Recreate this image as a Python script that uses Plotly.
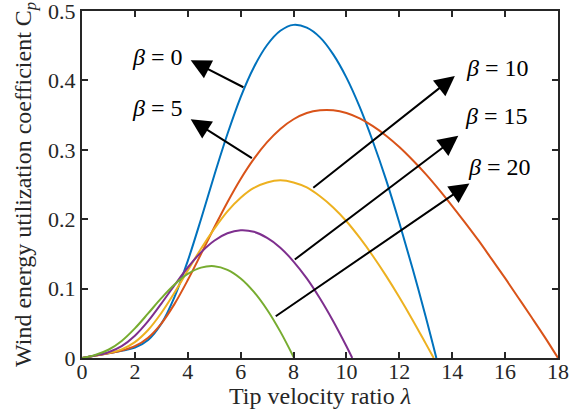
import plotly.graph_objects as go

# Tip velocity ratio samples and Cp values
lam_b0 = [0, 0.5, 1, 1.5, 2, 2.5, 3, 3.5, 4, 4.5, 5, 5.5, 6, 6.5, 7, 7.5, 8, 8.5, 9, 9.5, 10, 10.5, 11, 11.5, 12, 12.5, 13, 13.4]
cp_b0 = [0, 0.0034, 0.0068, 0.0103, 0.0151, 0.0261, 0.0495, 0.0882, 0.140, 0.200, 0.263, 0.3227, 0.376, 0.419, 0.451, 0.4715, 0.480, 0.476, 0.462, 0.4375, 0.404, 0.3618, 0.312, 0.2567, 0.195, 0.129, 0.059, 0.0]

lam_b5 = [0, 0.5, 1, 1.5, 2, 2.5, 3, 3.5, 4, 4.5, 5, 5.5, 6, 6.5, 7, 7.5, 8, 8.5, 9, 9.5, 10, 10.5, 11, 11.5, 12, 12.5, 13, 13.5, 14, 14.5, 15, 15.5, 16, 16.5, 17, 17.5, 18]
cp_b5 = [0, 0.0034, 0.0068, 0.0106, 0.0170, 0.0293, 0.0497, 0.0780, 0.1123, 0.1498, 0.188, 0.2245, 0.258, 0.2869, 0.311, 0.3301, 0.344, 0.353, 0.357, 0.357, 0.353, 0.3452, 0.334, 0.3203, 0.304, 0.2853, 0.265, 0.2427, 0.219, 0.1944, 0.169, 0.142, 0.115, 0.0869, 0.0587, 0.0301, 0.0]

lam_b10 = [0, 0.5, 1, 1.5, 2, 2.5, 3, 3.5, 4, 4.5, 5, 5.5, 6, 6.5, 7, 7.5, 8, 8.5, 9, 9.5, 10, 10.5, 11, 11.5, 12, 12.5, 13, 13.3]
cp_b10 = [0, 0.0034, 0.0070, 0.0125, 0.0229, 0.0403, 0.0648, 0.0942, 0.1261, 0.1575, 0.186, 0.2113, 0.231, 0.2451, 0.253, 0.256, 0.253, 0.2457, 0.233, 0.2169, 0.197, 0.1733, 0.147, 0.1183, 0.0875, 0.0549, 0.0207, 0.0]

lam_b15 = [0, 0.5, 1, 1.5, 2, 2.5, 3, 3.5, 4, 4.5, 5, 5.5, 6, 6.5, 7, 7.5, 8, 8.5, 9, 9.5, 10, 10.22]
cp_b15 = [0, 0.0035, 0.0083, 0.0171, 0.0321, 0.0531, 0.0784, 0.105, 0.1304, 0.1522, 0.169, 0.1797, 0.184, 0.1818, 0.173, 0.159, 0.139, 0.1147, 0.0857, 0.053, 0.0169, 0.0]

lam_b20 = [0, 0.5, 1, 1.5, 2, 2.5, 3, 3.5, 4, 4.5, 5, 5.5, 6, 6.5, 7, 7.5, 8.02]
cp_b20 = [0, 0.0044, 0.0119, 0.0246, 0.0427, 0.0642, 0.0862, 0.1059, 0.1211, 0.1302, 0.1323, 0.1271, 0.1147, 0.0953, 0.0696, 0.038, 0.0]

series = [
    (lam_b0, cp_b0, "#0072BD"),
    (lam_b5, cp_b5, "#D95319"),
    (lam_b10, cp_b10, "#EDB120"),
    (lam_b15, cp_b15, "#7E2F8E"),
    (lam_b20, cp_b20, "#77AC30"),
]

# Annotation labels, text anchors and arrow (tail -> head) positions in data units
labels = ["0", "5", "10", "15", "20"]
label_x = [2.84, 2.84, 15.73, 15.69, 15.77]
label_y = [0.434, 0.360, 0.418, 0.349, 0.2755]
tail_x = [6.16, 6.48, 8.69, 7.99, 7.27]
tail_y = [0.389, 0.2866, 0.2435, 0.1403, 0.0587]
head_x = [4.11, 4.11, 14.10, 14.23, 14.65]
head_y = [0.429, 0.344, 0.4065, 0.3201, 0.2515]

x_ticks = list(range(0, 19, 2))
y_ticks = [0, 0.1, 0.2, 0.3, 0.4, 0.5]
y_ticktext = ["0", "0.1", "0.2", "0.3", "0.4", "0.5"]

x_title = "Tip velocity ratio <i>λ</i>"
y_title = "Wind energy utilization coefficient C<sub><i>p</i></sub>"

FONT = "Liberation Serif, Times New Roman, serif"
AX = "#262626"

fig = go.Figure()
for lx, ly, col in series:
    fig.add_trace(go.Scatter(x=lx, y=ly, mode="lines", line=dict(color=col, width=2, shape="spline", smoothing=1.0),
                             showlegend=False, hoverinfo="skip", cliponaxis=True))

annotations = []
for i in range(len(labels)):
    annotations.append(dict(x=head_x[i], y=head_y[i], ax=tail_x[i], ay=tail_y[i],
                            xref="x", yref="y", axref="x", ayref="y", text="",
                            showarrow=True, arrowhead=2, arrowsize=2.0, arrowwidth=2,
                            arrowcolor="black", standoff=0, startstandoff=0))
    annotations.append(dict(x=label_x[i], y=label_y[i], xref="x", yref="y",
                            text="<i>β</i> = " + labels[i], showarrow=False,
                            font=dict(family=FONT, size=24, color="black"),
                            xanchor="center", yanchor="middle"))

# axis titles
annotations.append(dict(x=0.5, y=-0.11, xref="paper", yref="paper", text=x_title, showarrow=False,
                        font=dict(family=FONT, size=24, color=AX), xanchor="center", yanchor="middle"))
annotations.append(dict(x=-0.121, y=0.5, xref="paper", yref="paper", text=y_title, showarrow=False,
                        textangle=-90, font=dict(family=FONT, size=24, color=AX),
                        xanchor="center", yanchor="middle"))

fig.update_layout(
    width=588, height=415,
    margin=dict(l=82, r=30, t=11, b=57),
    plot_bgcolor="white", paper_bgcolor="white",
    font=dict(family=FONT, size=22, color=AX),
    annotations=annotations,
    xaxis=dict(range=[0, 18], tickvals=x_ticks, ticks="inside", ticklen=6, tickwidth=1.5,
               tickcolor=AX, showline=True, linecolor=AX, linewidth=2, mirror="ticks",
               showgrid=False, zeroline=False, automargin=False, ticklabelstandoff=-7,
               ticklabeloverflow="allow",
               tickfont=dict(family=FONT, size=22, color=AX)),
    yaxis=dict(range=[0, 0.5], tickvals=y_ticks, ticktext=y_ticktext, ticks="inside", ticklen=6, tickwidth=1.5,
               tickcolor=AX, showline=True, linecolor=AX, linewidth=2, mirror="ticks",
               showgrid=False, zeroline=False, automargin=False, ticklabeloverflow="allow",
               tickfont=dict(family=FONT, size=22, color=AX)),
)

fig.write_html("out.html", config={"displayModeBar": False},
               post_script="document.body.style.margin='0';document.body.style.padding='0';")
